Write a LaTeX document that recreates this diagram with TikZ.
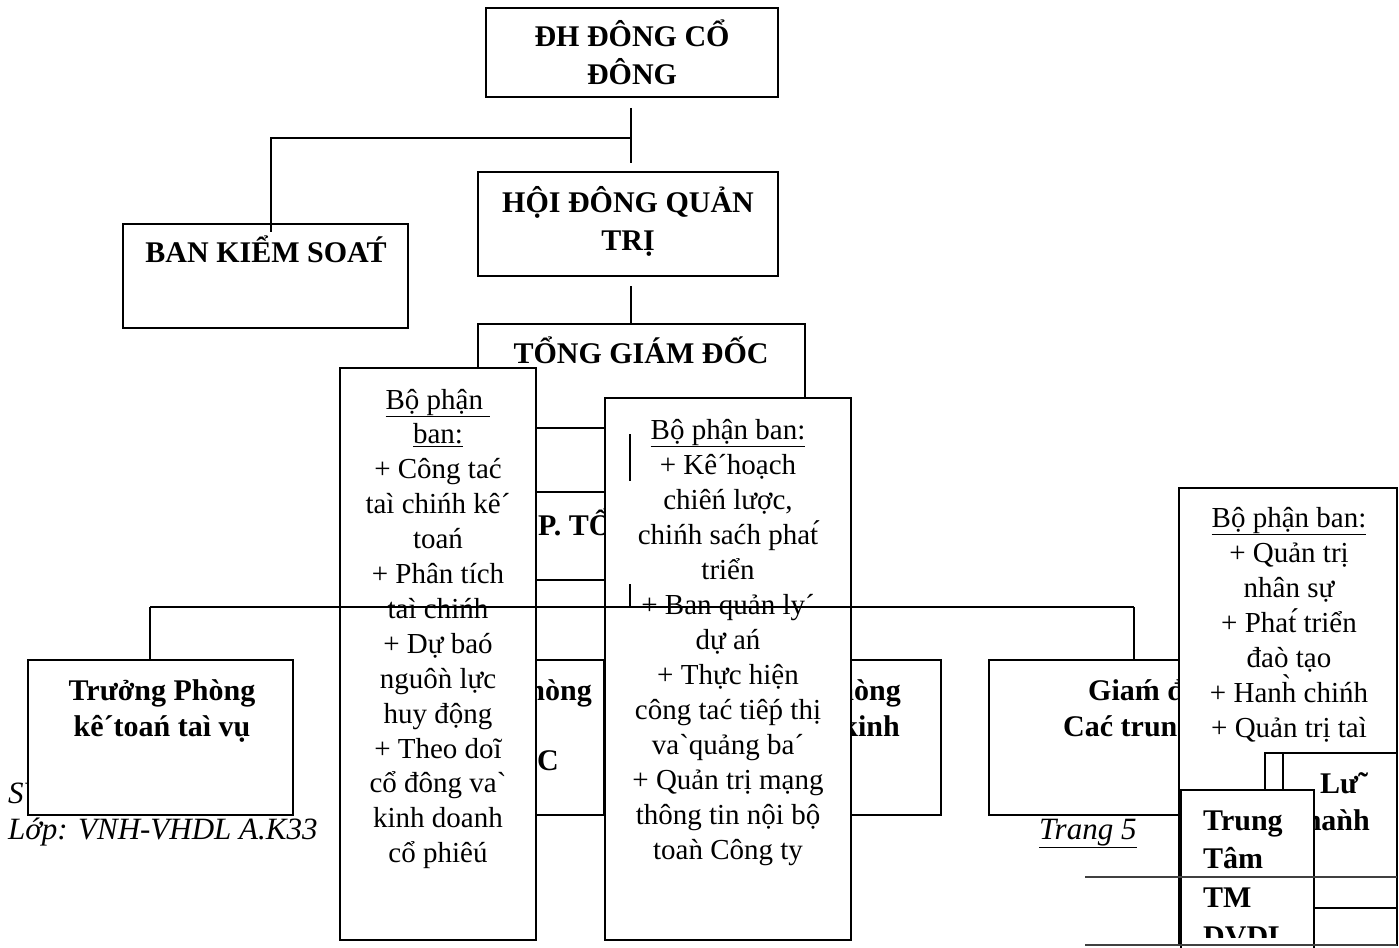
\documentclass[tikz,border=0pt]{standalone}
\usepackage{fontspec}
\setmainfont{Liberation Serif}[Ligatures=TeXOff]
\newcommand\bx[5]{\node[box, anchor=north west, minimum width={#4-#2}, minimum height={#5-#3}] (#1) at (#2,#3) {};}
\begin{document}
\begin{tikzpicture}[x=1pt,y=-1pt,
  box/.style={draw, line width=2.6pt, fill=white, inner sep=0pt, outer sep=0pt, rectangle},
  conn/.style={line width=1.8pt},
  lbl/.style={font=\fontsize{30}{37}\selectfont\bfseries, inner sep=0pt},
  bp/.style={font=\fontsize{29}{35}\selectfont, inner sep=0pt},
  ft/.style={font=\fontsize{31}{36}\selectfont\itshape, inner sep=0pt},
  sep/.style={line width=2pt, draw=black!75}]
\useasboundingbox (0,0) rectangle (1399,947);

% footer texts (partly hidden)
\node[ft, anchor=base west] (sv) at (8,803) {SV};
\node[ft, anchor=base west] (lop) at (8,839) {Lớp: VNH-VHDL A.K33};
\node[ft, anchor=base west] (trang) at (1039,839) {\underline{Trang 5}};

% top level
\bx{A}{486}{8}{778}{97}
\node[lbl, anchor=base] (a1) at (632,47) {ĐH ĐÔNG CỔ};
\node[lbl, anchor=base] (a2) at (632,85) {ĐÔNG};
\bx{B}{123}{224}{408}{328}
\node[lbl, anchor=base] (b1) at (266,262) {BAN KIỂM SOAT́};
\bx{C}{478}{172}{778}{276}
\node[lbl, anchor=base] (c1) at (628,212) {HỘI ĐÔNG QUẢN};
\node[lbl, anchor=base] (c2) at (628,250) {TRỊ};
\bx{T}{478}{324}{805}{428}
\node[lbl, anchor=base] (t1) at (641,363) {TỔNG GIÁM ĐỐC};

\coordinate (j1) at (631,108); \coordinate (j2) at (631,163);
\coordinate (j3) at (631,138); \coordinate (j4) at (271,138); \coordinate (j5) at (271,232);
\coordinate (j6) at (631,286); \coordinate (j7) at (631,324);
\draw[conn] (j1) -- (j2);
\draw[conn] (j3) -- (j4) -- (j5);
\draw[conn] (j6) -- (j7);

% deputy box (mostly hidden)
\bx{P}{450}{492}{720}{580}
\node[lbl, anchor=base west] (p1) at (538,535) {P. TỔNG GIÁM ĐỐC};

% second row
\bx{TP}{28}{660}{293}{815}
\node[lbl, anchor=base] (tp1) at (162,700) {Trưởng Phòng};
\node[lbl, anchor=base] (tp2) at (162,736) {kê´toań taì vụ};
\bx{B2}{360}{660}{604}{815}
\node[lbl, anchor=base east] (b21) at (592,700) {Phòng};
\node[lbl, anchor=base west] (b22) at (537,770) {C};
\bx{B3}{700}{660}{941}{815}
\node[lbl, anchor=base east] (b31) at (901,700) {Phòng};
\node[lbl, anchor=base east] (b32) at (900,736) {kinh};
\bx{GD}{989}{660}{1281}{815}
\node[lbl, anchor=base west] (gd1) at (1088,700) {Giaḿ đốc};
\node[lbl, anchor=base west] (gd2) at (1063,736) {Cać trung tâm};

% department boxes
\bx{L}{340}{368}{536}{940}
\foreach \t [count=\i] in {{\underline{Bộ phận\ }},{\underline{ban:}},{+ Công tać},{taì chińh kê´},{toań},{+ Phân tích},{taì chińh},{+ Dự baó},{nguôǹ lực},{huy động},{+ Theo doĩ},{cổ đông va`},{kinh doanh},{cổ phiêú}}
  \node[bp, anchor=base] (l\i) at (438,{409+34.9*(\i-1)}) {\t};
\bx{M}{605}{398}{851}{940}
\foreach \t [count=\i] in {{\underline{Bộ phận ban:}},{+ Kê´hoạch},{chiêń lược,},{chińh saćh phat́},{triển},{+ Ban quản ly´},{dự ań},{+ Thực hiện},{công tać tiêṕ thị},{va`quảng ba´},{+ Quản trị mạng},{thông tin nội bộ},{toaǹ Công ty}}
  \node[bp, anchor=base] (m\i) at (728,{439+35*(\i-1)}) {\t};
\bx{R}{1179}{488}{1397}{945}
\foreach \t [count=\i] in {{\underline{Bộ phận ban:}},{+ Quản trị},{nhân sự},{+ Phat́ triển},{đaò tạo},{+ Hanh̀ chińh},{+ Quản trị taì}}
  \node[bp, anchor=base] (r\i) at (1289,{527+35*(\i-1)}) {\t};

% long connector line and stubs
\coordinate (hL) at (150,607); \coordinate (hR) at (1134,607);
\draw[conn] (hL) -- (hR);
\draw[conn] (hL) -- (hL |- TP.north);
\draw[conn] (hR) -- (hR |- GD.north);
\coordinate (s1) at (630,434); \coordinate (s2) at (630,481);
\coordinate (s3) at (630,584); \coordinate (s4) at (630,607);
\draw[conn] (s1) -- (s2);
\draw[conn] (s3) -- (s4);

% bottom right boxes
\bx{X}{1265}{753}{1397}{945}
\bx{LH}{1283}{753}{1397}{908}
\node[lbl, anchor=base west] (lh1) at (1320,793) {Lư˜};
\node[lbl, anchor=base east] (lh2) at (1370,830) {haǹh};
\bx{TT}{1181}{790}{1314}{960}
\begin{scope}
\clip (1183,792) rectangle (1312,937);
\node[lbl, anchor=base west] (tt1) at (1203,830) {Trung};
\node[lbl, anchor=base west] (tt2) at (1203,868) {Tâm};
\node[lbl, anchor=base west] (tt3) at (1203,907) {TM};
\node[lbl, anchor=base west] (tt4) at (1203,946) {DVDL};
\end{scope}

% footer rules
\coordinate (f1) at (1085,877); \coordinate (f2) at (1397,877);
\coordinate (f3) at (1085,945); \coordinate (f4) at (1397,945);
\draw[sep] (f1) -- (f2);
\draw[sep] (f3) -- (f4);
\end{tikzpicture}
\end{document}
